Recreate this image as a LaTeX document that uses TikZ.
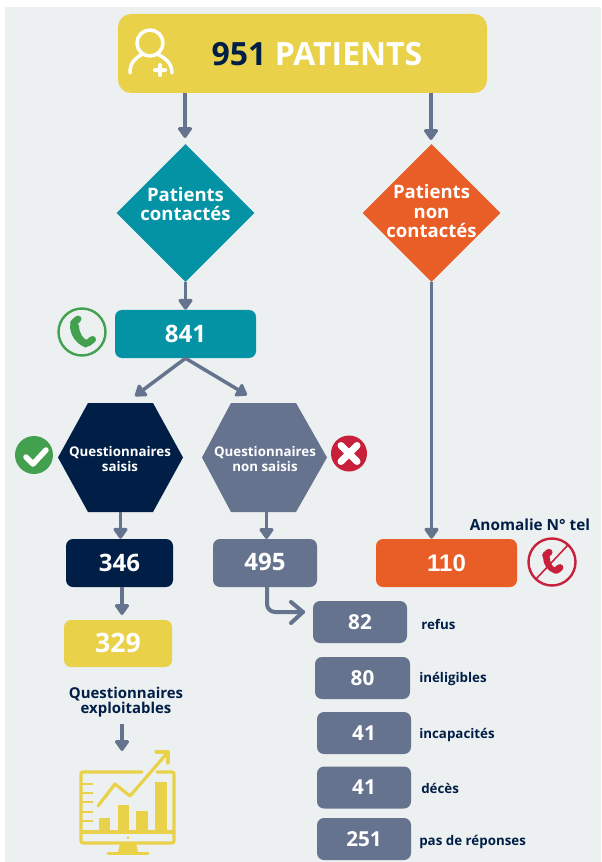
\documentclass[tikz,border=0pt]{standalone}
\usepackage{fontspec}
\setmainfont{Open Sans}[BoldFont={Open Sans Bold}]
\newfontfamily\arialfont{Liberation Sans}
\usetikzlibrary{shapes.geometric,arrows.meta,calc}
\definecolor{bgc}{HTML}{ECF0F1}
\definecolor{yel}{HTML}{E9D24A}
\definecolor{teal1}{HTML}{0393A5}
\definecolor{oran}{HTML}{E95D26}
\definecolor{navy}{HTML}{001E46}
\definecolor{slate}{HTML}{66738F}
\definecolor{grn}{HTML}{43A04F}
\definecolor{redc}{HTML}{C8203A}
\def\px{0.75pt}
\tikzset{
  x=0.75pt,y=-0.75pt,
  numbox/.style={rounded corners=7*\px,inner sep=0pt,text=white,font=\bfseries\fontsize{18}{20}\selectfont,align=center},
  smallbox/.style={numbox,fill=slate,font=\bfseries\fontsize{15.5}{18}\selectfont,minimum height=42*\px},
  dia/.style={diamond,aspect=1,inner sep=0pt,minimum width=138*\px,minimum height=138*\px},
  whitelabel/.style={text=white,font=\bfseries\fontsize{13.9}{14.6}\selectfont,align=center,inner sep=0pt},
  hexlabel/.style={text=white,font=\bfseries\fontsize{10}{10.6}\selectfont,align=center,inner sep=0pt},
  navylabel/.style={text=navy,font=\bfseries\fontsize{11.2}{9.9}\selectfont,align=center,inner sep=0pt},
  sidelabel/.style={text=navy,inner sep=0pt,anchor=west,font=\bfseries\fontsize{10}{11}\selectfont},
  hexanchor/.style={inner sep=0pt,minimum width=125*\px,minimum height=109*\px},
  flow/.style={draw=slate,line width=3.5*\px,-{Triangle[width=16*\px,length=12*\px,round]}},
  iconline/.style={line width=3.2*\px,draw=yel,fill=none},
}
\newcommand{\phoneshape}[1]{%
  \fill[#1,rounded corners=1pt] (-12,-8) .. controls (-12,3) and (-6,12) .. (5,16) -- (7,9) .. controls (1,7) and (-3,1) .. (-3,-8) -- cycle;
  \draw[#1,line width=7*\px,line cap=round] (-8.5,-9) -- (-4,-13);
  \draw[#1,line width=7*\px,line cap=round] (6,11) -- (10.5,7.5);
}
\begin{document}
\begin{tikzpicture}
\useasboundingbox (0,0) rectangle (601,862);
\fill[bgc] (5,7) rectangle (601,862);

% boxes
\node[numbox,fill=yel,minimum width=369*\px,minimum height=79*\px,rounded corners=13*\px] (top) at (302.5,53.5) {};
\node[inner sep=0pt,font=\bfseries\fontsize{24}{28}\selectfont,text=white] (toptext) at (317,54) {\textcolor{navy}{951} PATIENTS};
\node[dia,fill=teal1] (d1) at (185.5,213) {};
\node[whitelabel] (d1t) at (185.5,204) {Patients\\contactés};
\node[dia,fill=oran] (d2) at (431.5,213) {};
\node[whitelabel] (d2t) at (431.5,211.5) {Patients\\non\\contactés};
\node[numbox,fill=teal1,minimum width=141*\px,minimum height=48*\px] (n841) at (185.5,334) {841};

\fill[navy] (88,403) -- (153,403) -- (183,457.5) -- (153,512) -- (88,512) -- (58,457.5) -- cycle;
\fill[slate] (231,403) -- (296,403) -- (327,457.5) -- (296,512) -- (231,512) -- (202,457.5) -- cycle;
\node[hexanchor] (hA) at (120.5,457.5) {};
\node[hexanchor] (hB) at (264.5,457.5) {};
\node[hexlabel] (hAt) at (120,459) {Questionnaires\\saisis};
\node[hexlabel] (hBt) at (265,459) {Questionnaires\\non saisis};

\node[numbox,fill=navy,minimum width=107*\px,minimum height=48*\px] (n346) at (119.5,563) {346};
\node[numbox,fill=slate,minimum width=104*\px,minimum height=48*\px] (n495) at (265,563) {\raisebox{1.3pt}{495}};
\node[numbox,fill=yel,minimum width=108*\px,minimum height=47*\px,font=\bfseries\fontsize{20}{22}\selectfont] (n329) at (118,643.5) {\raisebox{1.5pt}{329}};
\node[numbox,fill=oran,minimum width=141*\px,minimum height=48*\px,font=\arialfont\bfseries\fontsize{18}{20}\selectfont] (n110) at (446.5,563) {110};

\node[smallbox,minimum width=94*\px] (n82) at (360,622) {82};
\node[smallbox,minimum width=95*\px] (n80) at (362.5,678) {80};
\node[smallbox,minimum width=94*\px] (n41a) at (364,733) {41};
\node[smallbox,minimum width=94*\px] (n41b) at (364,787.5) {41};
\node[smallbox,minimum width=94*\px] (n251) at (364,839) {251};

% labels
\node[sidelabel] (l1) at (421,624) {refus};
\node[sidelabel] (l2) at (419,679) {inéligibles};
\node[sidelabel] (l3) at (419,734.5) {incapacités};
\node[sidelabel] (l4) at (421,788.5) {décès};
\node[sidelabel] (l5) at (419,841.5) {pas de réponses};
\node[navylabel] (qe) at (126,702.5) {Questionnaires\\exploitables};
\node[navylabel,font=\bfseries\fontsize{11.5}{13}\selectfont] (ano) at (530,525) {Anomalie N° tel};

% connectors
\coordinate (t1) at (185,138);
\coordinate (t2) at (431,140);
\coordinate (tA) at (135,396);
\coordinate (tB) at (247,395);
\coordinate (tq) at (122,751);
\coordinate (t329) at (122,615);
\draw[flow] (top.south -| t1) -- (t1);
\draw[flow] (top.south -| t2) -- (t2);
\draw[flow] (d1.south) -- (n841.north -| d1.south);
\draw[flow] (d2.south) -- (n110.north -| d2.south);
\coordinate (fork) at (n841.south);
\draw[flow] (fork) -- (tA);
\draw[flow] (fork) -- (tB);
\draw[flow] (hA.south) -- (n346.north -| hA.south);
\draw[flow] (hB.south -| n495.north) ++(1.5,0) -- (266.5,539);
\draw[flow] (n346.south -| t329) -- (t329);
\draw[flow] (122,724) -- (tq);
\coordinate (eb) at (303,612);
\draw[draw=slate,line width=4*\px,rounded corners=8*\px,line cap=round] (267,587) |- (eb);
\draw[draw=slate,line width=4*\px,line cap=round,line join=round] (291,602) -- (eb) -- (291,623);

% person icon
\draw[white,line width=3.5*\px] (150,43) circle (13);
\draw[white,line width=3.5*\px,line cap=round] (130,73) .. controls (130,63) and (135,58) .. (142,54.5);
\draw[white,line width=3.5*\px,line cap=round] (158,54.5) .. controls (165,58) and (172,63) .. (172,73);
\draw[white,line width=4*\px,line cap=round] (155,70) -- (165,70) (160,65) -- (160,75);

% green phone
\draw[grn,line width=2.4*\px] (82,332) circle (23.5);
\begin{scope}[shift={(82,332)}]\phoneshape{grn}\end{scope}

% check
\fill[grn] (34,455) circle (19);
\draw[white,line width=5.5*\px,line cap=round,line join=round] (26,457) -- (33,464) -- (46,450);

% cross
\fill[redc] (349,453.5) circle (18);
\draw[white,line width=7*\px,line cap=round] (341,445.5) -- (357,461.5) (357,445.5) -- (341,461.5);

% red phone
\draw[redc,line width=2.4*\px] (552,562) circle (23.5);
\begin{scope}[shift={(552,562)},scale=0.75]\phoneshape{redc}\end{scope}
\draw[redc,line width=1.6*\px] (568,545) -- (536,579);

% chart icon
\draw[iconline,rounded corners=2*\px,line cap=round] (142,772) -- (81,772) -- (81,843) -- (174,843) -- (174,772) -- (157,772);
\draw[iconline] (81,832) -- (174,832);
\foreach \yy in {784,793,802,812,821}{\draw[yel,line width=2.8*\px] (81,\yy) -- (93,\yy);}
\fill[yel] (99,818) rectangle (110,832);
\fill[yel] (118,805) rectangle (129,832);
\fill[yel] (136,811) rectangle (148,832);
\fill[yel] (155,782) rectangle (167,832);
\draw[iconline,line cap=round,line join=round] (98,806) -- (115,784) -- (130,796) -- (168,752);
\draw[iconline,line cap=round,line join=round] (156,752) -- (168,752) -- (168,763);
\fill[yel] (128,837.5) circle (1.5);
\fill[yel] (120,843) -- (136,843) -- (138,852) -- (118,852) -- cycle;
\draw[yel,line width=3*\px,line cap=round] (108,853.5) -- (148,853.5);
\end{tikzpicture}
\end{document}
